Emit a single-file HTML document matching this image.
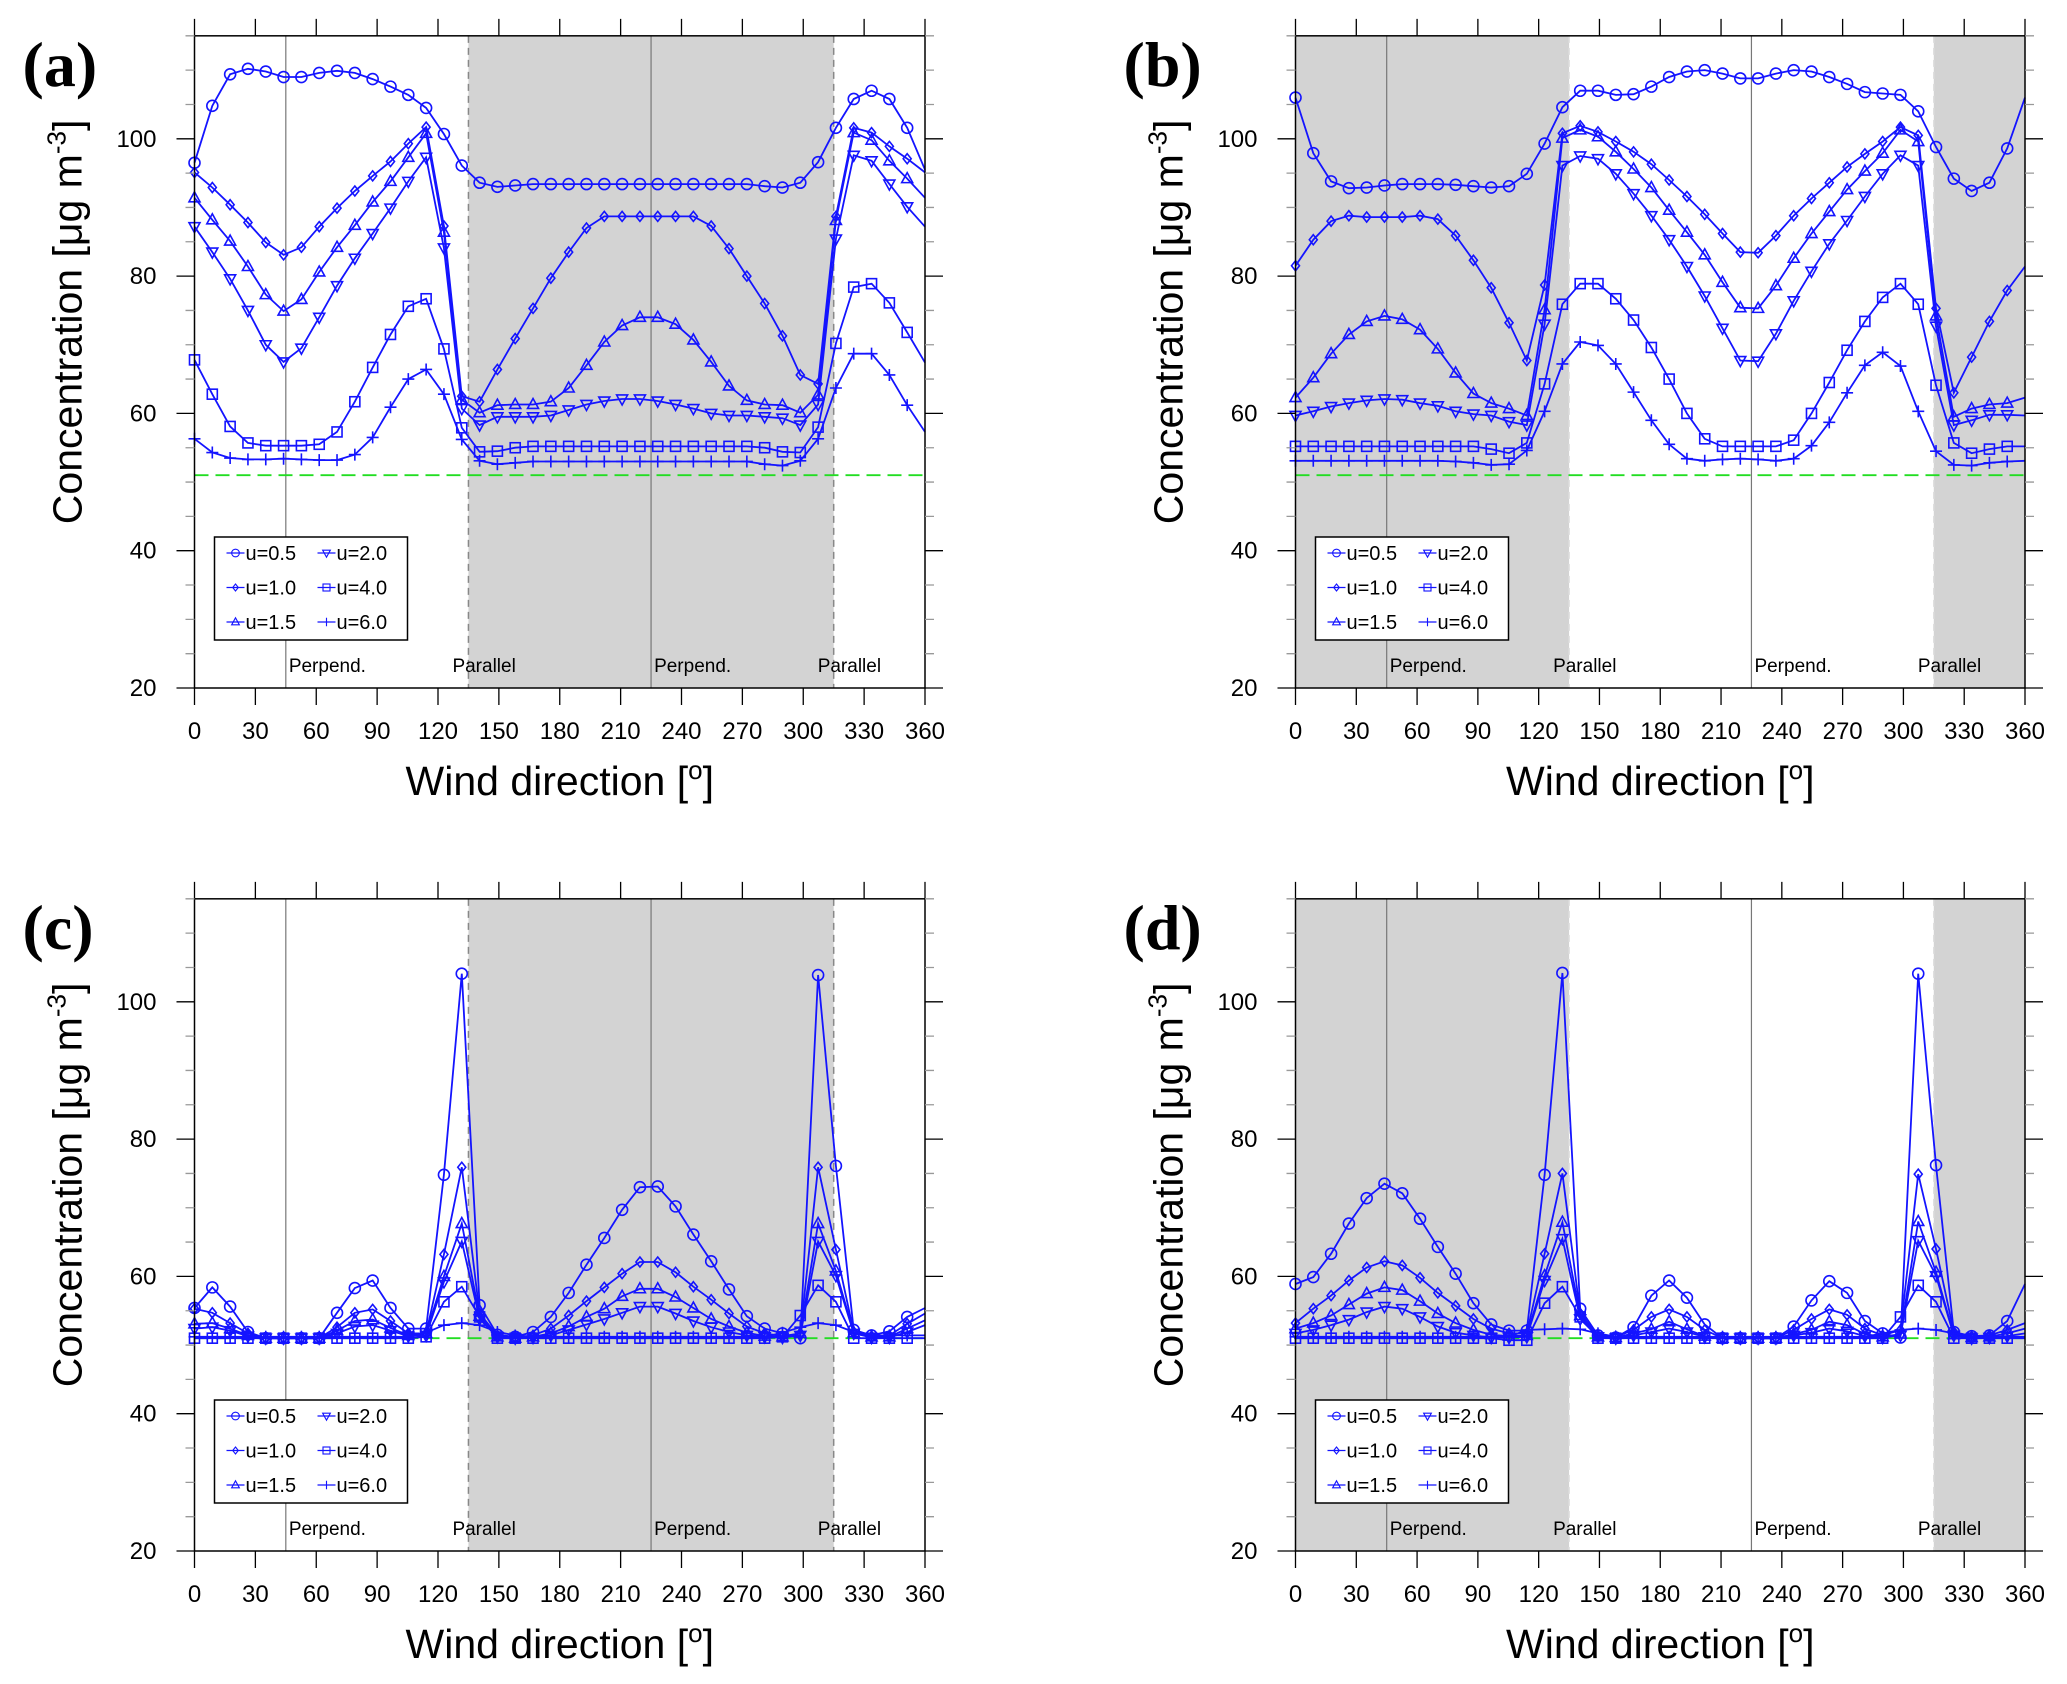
<!DOCTYPE html>
<html>
<head>
<meta charset="utf-8">
<style>
  html,body{margin:0;padding:0;background:#fff;}
  svg{display:block;}
  text{font-family:"Liberation Sans",sans-serif;}
</style>
</head>
<body>
<svg id="fig" xmlns="http://www.w3.org/2000/svg" width="2067" height="1684" viewBox="0 0 2067 1684"></svg>
<script>
// ---- data ----
const angles = [0,8.78,17.56,26.34,35.12,43.9,52.68,61.46,70.24,79.02,87.8,96.59,105.37,114.15,122.93,131.71,140.49,149.27,158.05,166.83,175.61,184.39,193.17,201.95,210.73,219.51,228.29,237.07,245.85,254.63,263.41,272.2,280.98,289.76,298.54,307.32,316.1,324.88,333.66,342.44,351.22,360];
const seriesLabels = ["u=0.5","u=1.0","u=1.5","u=2.0","u=4.0","u=6.0"];
const markerTypes = ["circle","diamond","tri-up","tri-down","square","plus"];
const xTicks = [0,30,60,90,120,150,180,210,240,270,300,330,360];
const yTicks = [20,40,60,80,100];
const background = 51;

const A_05=[96.5,104.8,109.4,110.2,109.8,109.0,109.0,109.6,109.9,109.6,108.7,107.6,106.4,104.5,100.7,96.1,93.6,93.0,93.2,93.4,93.4,93.4,93.4,93.4,93.4,93.4,93.4,93.4,93.4,93.4,93.4,93.4,93.1,92.9,93.6,96.6,101.6,105.8,107.0,105.8,101.6,95.5];
const A_10=[95.1,92.9,90.4,87.8,84.9,83.1,84.2,87.2,89.9,92.4,94.6,96.7,99.3,101.7,87.3,62.5,61.7,66.4,70.9,75.3,79.7,83.5,87.0,88.7,88.7,88.7,88.7,88.7,88.7,87.3,84.0,80.0,76.0,71.3,65.6,64.3,88.7,101.6,100.9,98.9,97.1,95.1];
const A_15=[91.4,88.2,85.1,81.4,77.3,74.9,76.6,80.6,84.2,87.4,90.8,93.8,97.3,100.8,86.4,62.0,60.1,61.2,61.3,61.3,61.7,63.7,67.0,70.4,72.8,74.0,74.0,73.0,70.7,67.5,64.0,61.9,61.3,61.2,60.1,62.7,88.1,100.9,99.8,96.8,94.2,91.4];
const A_20=[87.2,83.5,79.6,75.0,70.0,67.5,69.5,74.0,78.6,82.6,86.2,89.9,93.8,97.3,84.1,60.7,58.3,59.5,59.5,59.5,59.7,60.5,61.3,61.8,62.1,62.1,61.8,61.3,60.7,60.0,59.7,59.7,59.5,59.3,58.3,61.3,85.4,97.6,96.8,93.4,90.1,87.2];
const A_40=[67.8,62.8,58.1,55.7,55.3,55.3,55.3,55.5,57.3,61.7,66.7,71.5,75.6,76.7,69.4,57.9,54.4,54.5,55.0,55.2,55.2,55.2,55.2,55.2,55.2,55.2,55.2,55.2,55.2,55.2,55.2,55.2,55.0,54.4,54.3,58.0,70.2,78.4,78.9,76.1,71.8,67.4];
const A_60=[56.3,54.3,53.5,53.3,53.3,53.4,53.3,53.2,53.2,54.0,56.5,60.9,65.0,66.4,62.8,56.2,53.1,52.6,52.8,53.0,53.0,53.0,53.0,53.0,53.0,53.0,53.0,53.0,53.0,53.0,53.0,53.0,52.6,52.4,53.1,56.3,63.7,68.7,68.7,65.6,61.2,57.3];

const B_05=[106.0,97.9,93.8,92.8,92.9,93.2,93.4,93.4,93.4,93.3,93.1,92.9,93.1,94.9,99.3,104.6,107.0,107.0,106.4,106.5,107.6,109.0,109.8,110.0,109.5,108.8,108.8,109.5,110.0,109.8,109.0,108.0,106.8,106.6,106.4,104.0,98.8,94.2,92.4,93.6,98.6,106.0];
const B_10=[81.5,85.3,88.0,88.8,88.6,88.6,88.6,88.8,88.3,85.9,82.3,78.3,73.2,67.7,78.7,100.8,101.9,101.0,99.6,98.1,96.3,94.0,91.6,89.0,86.2,83.5,83.4,85.9,88.8,91.3,93.6,95.9,97.8,99.6,101.7,100.5,75.3,63.0,68.2,73.4,77.9,81.4];
const B_15=[62.3,65.2,68.7,71.5,73.4,74.2,73.7,72.2,69.4,65.9,62.9,61.5,60.7,59.7,75.1,100.1,101.3,100.3,98.1,95.6,92.9,89.6,86.4,83.1,79.1,75.4,75.3,78.6,82.6,86.2,89.4,92.6,95.3,97.9,101.3,99.6,74.2,59.5,60.7,61.3,61.5,62.3];
const B_20=[59.7,60.3,61.0,61.5,61.9,62.1,62.0,61.5,61.1,60.3,59.9,59.7,58.8,58.3,73.0,96.1,97.5,97.1,94.9,92.0,88.8,85.3,81.4,77.1,72.4,67.7,67.6,71.6,76.4,80.7,84.7,88.1,91.6,94.9,97.6,96.1,72.7,58.3,59.0,59.8,59.8,59.7];
const B_40=[55.2,55.2,55.2,55.2,55.2,55.2,55.2,55.2,55.2,55.2,55.2,54.8,54.2,55.7,64.3,75.9,78.9,78.9,76.7,73.6,69.6,65.0,60.0,56.3,55.2,55.2,55.2,55.2,56.1,60.0,64.5,69.2,73.4,76.9,78.9,75.9,64.1,55.7,54.2,54.8,55.2,55.2];
const B_60=[53.1,53.1,53.1,53.1,53.1,53.1,53.1,53.1,53.1,53.0,52.8,52.5,52.6,54.6,60.3,67.2,70.4,69.9,67.2,63.1,59.0,55.5,53.4,53.1,53.3,53.4,53.3,53.1,53.4,55.3,58.7,63.0,67.0,68.9,66.9,60.3,54.5,52.5,52.4,52.8,53.0,53.1];

const C_05=[55.4,58.4,55.6,51.9,51,51,51,51,54.7,58.3,59.4,55.4,52.4,52.4,74.8,104.1,55.8,51.5,51.2,51.9,54.1,57.6,61.7,65.6,69.7,73.0,73.1,70.2,66.1,62.2,58.1,54.2,52.4,51.7,51.0,103.9,76.1,52.2,51.4,52.0,54.1,55.4];
const C_10=[55.3,54.7,53.2,51.7,51,51,51,51,52.6,54.7,55.2,53.5,51.7,51.7,63.2,75.9,54.6,51.4,51.1,51.4,52.4,54.3,56.4,58.4,60.4,62.1,62.1,60.6,58.5,56.6,54.6,52.7,51.7,51.3,51.7,75.9,63.9,51.9,51.2,51.4,53.1,54.6];
const C_15=[53.1,53.2,52.4,51.4,51,51,51,51,52.1,53.5,53.7,52.5,51.4,51.7,60.0,67.7,54.2,51.2,51.0,51.2,51.7,52.7,54.1,55.3,57.1,58.2,58.2,57.0,55.4,53.8,52.7,51.8,51.3,51.2,51.7,67.7,60.8,51.8,51.2,51.2,52.4,53.6];
const C_20=[52.4,52.6,52.1,51.3,51,51,51,51,51.7,52.7,52.9,52.1,51.3,51.4,59.2,65.1,53.8,51.2,51.0,51.1,51.4,52.2,53.0,53.8,54.7,55.6,55.6,54.6,53.5,52.6,51.9,51.4,51.2,51.1,51.4,65.1,60.1,51.7,51.1,51.1,51.9,52.9];
const C_40=[51,51,51,51,51,51,51,51,51,51,51,51,51,51.2,56.3,58.5,54.1,51,51,51,51,51,51,51,51,51,51,51,51,51,51,51,51,51.2,54.3,58.7,56.3,51,51,51,51,51];
const C_60=[51.2,51.2,51.2,51.2,51.2,51.2,51.2,51.2,51.2,51.2,51.2,51.2,51.2,51.8,52.9,53.2,52.9,51.9,51.4,51.2,51.2,51.2,51.2,51.2,51.2,51.2,51.2,51.2,51.2,51.2,51.2,51.2,51.2,51.8,52.6,53.2,52.9,51.9,51.4,51.4,51.4,51.4];

const D_05=[58.9,59.9,63.3,67.7,71.4,73.5,72.1,68.4,64.3,60.4,56.1,53.0,52.1,52.1,74.8,104.2,55.3,51.4,51.1,52.6,57.2,59.4,56.9,53.0,51,51,51,51,52.7,56.5,59.3,57.6,53.5,51.7,51.1,104.1,76.2,51.9,51.3,51.4,53.5,58.9];
const D_10=[53.2,55.3,57.2,59.4,61.3,62.2,61.6,59.8,57.6,55.7,53.8,52.4,51.7,51.7,63.3,75.0,54.6,51.4,51.2,52.2,54.1,55.2,54.1,52.2,51,51,51,51,52.2,53.8,55.2,54.4,52.4,51.4,52.2,74.9,64.0,51.9,51.2,51.4,52.2,53.2];
const D_15=[52.4,53.2,54.3,55.9,57.5,58.4,58.0,56.4,54.6,53.2,52.2,51.5,51.3,51.4,60.1,67.9,54.3,51.2,51.1,51.7,52.3,53.4,52.3,51.3,51,51,51,51,51.6,52.2,53.4,52.9,51.6,51.2,51.6,68.0,60.6,51.5,51.1,51.2,51.7,52.4];
const D_20=[51.7,52.2,52.9,53.7,54.8,55.6,55.3,54.1,52.7,51.8,51.4,51.1,51.1,51.2,59.4,65.5,53.8,51.2,51.0,51.4,51.9,52.4,51.9,51.2,51,51,51,51,51.4,51.8,52.4,52.0,51.3,51.1,51.4,65.2,60.1,51.4,51.0,51.1,51.3,51.7];
const D_40=[51,51,51,51,51,51,51,51,51,51,51,51,50.7,50.7,56.1,58.5,54.1,51,51,51,51,51,51,51,51,51,51,51,51,51,51,51,51,51,54.1,58.7,56.3,51,51,51,51,51];
const D_60=[51.2,51.2,51.2,51.2,51.2,51.2,51.2,51.2,51.2,51.2,51.2,51.2,51.2,52.2,52.3,52.4,52.3,51.7,51.2,51.2,51.2,51.2,51.2,51.2,51.2,51.2,51.2,51.2,51.2,51.2,51.2,51.2,51.2,51.7,52.2,52.4,52.2,51.7,51.2,51.2,51.2,51.2];

// ---- layout ----
const NS="http://www.w3.org/2000/svg";
const svg=document.getElementById('fig');
const X_MIN=0,X_MAX=360,Y_MIN=20,Y_MAX=115;
const panels=[
  {id:"a",x0:194.5,x1:925,yBase:688,series:[A_05,A_10,A_15,A_20,A_40,A_60],shade:[[135,315]]},
  {id:"b",x0:1295.5,x1:2025,yBase:688,series:[B_05,B_10,B_15,B_20,B_40,B_60],shade:[[0,135],[315,360]]},
  {id:"c",x0:194.5,x1:925,yBase:1551,series:[C_05,C_10,C_15,C_20,C_40,C_60],shade:[[135,315]]},
  {id:"d",x0:1295.5,x1:2025,yBase:1551,series:[D_05,D_10,D_15,D_20,D_40,D_60],shade:[[0,135],[315,360]]}
];
const PX_PER_UNIT=6.865;
const BLUE="#1414ff";

function mk(tag,attrs,parent){
  const e=document.createElementNS(NS,tag);
  for(const k in attrs) e.setAttribute(k,attrs[k]);
  (parent||svg).appendChild(e);
  return e;
}
function marker(type,cx,cy,g){
  const r=5.5;let m;
  if(type==="circle") m=mk("circle",{cx:cx,cy:cy,r:r,fill:"none",stroke:BLUE,"stroke-width":1.6},g);
  else if(type==="diamond") m=mk("polygon",{points:`${cx},${cy-5} ${cx+4},${cy} ${cx},${cy+5} ${cx-4},${cy}`,fill:"none",stroke:BLUE,"stroke-width":1.6},g);
  else if(type==="tri-up") m=mk("polygon",{points:`${cx},${cy-6} ${cx+5.5},${cy+4} ${cx-5.5},${cy+4}`,fill:"none",stroke:BLUE,"stroke-width":1.6},g);
  else if(type==="tri-down") m=mk("polygon",{points:`${cx},${cy+6} ${cx+5.5},${cy-4} ${cx-5.5},${cy-4}`,fill:"none",stroke:BLUE,"stroke-width":1.6},g);
  else if(type==="square") m=mk("rect",{x:cx-5,y:cy-5,width:10,height:10,fill:"none",stroke:BLUE,"stroke-width":1.6},g);
  else m=mk("path",{d:`M${cx-6},${cy}H${cx+6}M${cx},${cy-6}V${cy+6}`,stroke:BLUE,"stroke-width":1.6,fill:"none"},g);
  return m;
}

panels.forEach(p=>{
  const sx=v=>p.x0+(v-X_MIN)/(X_MAX-X_MIN)*(p.x1-p.x0);
  const sy=v=>p.yBase-(v-Y_MIN)*PX_PER_UNIT;
  const yTop=sy(Y_MAX), yBot=sy(Y_MIN);
  const g=mk("g",{});
  
  

  p.shade.forEach(s=>{
    const r=mk("rect",{x:sx(s[0]),y:yTop,width:sx(s[1])-sx(s[0]),height:yBot-yTop,fill:"#d3d3d3"},g);
    
    
  });
  [45,225].forEach(a=>{
    const l=mk("line",{x1:sx(a),x2:sx(a),y1:yTop,y2:yBot,stroke:"#777","stroke-width":1.2},g);
    
    
  });
  [135,315].forEach(a=>{
    const l=mk("line",{x1:sx(a),x2:sx(a),y1:yTop,y2:yBot,stroke:p.shade[0][0]===0?"#ddd":"#888","stroke-width":1.5,"stroke-dasharray":"7,5"},g);
    
    
  });
  const bg=mk("line",{x1:sx(0),x2:sx(360),y1:sy(background),y2:sy(background),stroke:"#22dd22","stroke-width":1.8,"stroke-dasharray":"14,7"},g);
  
  

  [["Perpend.",45,3],["Parallel",135,-16],["Perpend.",225,3],["Parallel",315,-16]].forEach(t=>{
    const tx=mk("text",{x:sx(t[1])+t[2],y:yBot-16,"font-size":19,fill:"#000"},g);
    tx.textContent=t[0];
    
    
  });

  p.series.forEach((vals,si)=>{
    const sg=mk("g",{},g);
    
    
    const pts=vals.map((v,i)=>sx(angles[i]).toFixed(1)+","+sy(v).toFixed(1)).join(" ");
    const pl=mk("polyline",{points:pts,fill:"none",stroke:BLUE,"stroke-width":1.8},sg);
    
    
    vals.forEach((v,i)=>{
      if(angles[i]>=359) return;
      const m=marker(markerTypes[si],sx(angles[i]),sy(v),sg);
      
      
    });
  });

  const fr=mk("rect",{x:sx(0),y:yTop,width:sx(360)-sx(0),height:yBot-yTop,fill:"none",stroke:"#000","stroke-width":1.5},g);
  
  

  xTicks.forEach(t=>{
    const x=sx(t);
    const tk=mk("path",{d:`M${x},${yBot}V${yBot+17}M${x},${yTop}V${yTop-17}`,stroke:"#000","stroke-width":1.3},g);
    
    
    const lb=mk("text",{x:x,y:yBot+51,"font-size":24,"text-anchor":"middle"},g);
    lb.textContent=t;
    
    
  });
  for(let v=Y_MIN;v<=Y_MAX;v+=5){
    const y=sy(v), major=(yTicks.indexOf(v)>=0), len=major?18:9;
    const tk=mk("path",{d:`M${sx(0)},${y}H${sx(0)-len}M${sx(360)},${y}H${sx(360)+len}`,stroke:major?"#000":"#999","stroke-width":1.3},g);
    
    
  }
  yTicks.forEach(t=>{
    const lb=mk("text",{x:sx(0)-38,y:sy(t)+8,"font-size":24,"text-anchor":"end"},g);
    lb.textContent=t;
    
    
  });

  const xt=mk("text",{x:(sx(0)+sx(360))/2,y:yBot+107,"font-size":41,"text-anchor":"middle"},g);
  xt.innerHTML='Wind direction [<tspan font-size="26" dy="-16">o</tspan><tspan dy="16">]</tspan>';
  
  
  const yc=(yTop+yBot)/2-40;
  const yt=mk("text",{x:0,y:0,"font-size":41,"text-anchor":"middle",transform:`translate(${p.x0-113},${yc}) rotate(-90)`},g);
  yt.innerHTML='Concentration [μg m<tspan font-size="26" dy="-16">-3</tspan><tspan dy="16">]</tspan>';
  
  

  const pl=mk("text",{x:p.x0-172,y:yTop+50,"font-size":64,"font-weight":"bold",style:"font-family:'Liberation Serif',serif"},g);
  pl.textContent="("+p.id+")";
  
  

  const lg=mk("g",{},g);
  
  
  const lx=p.x0+20, ly=yBot-151;
  const lbox=mk("rect",{x:lx,y:ly,width:193,height:103,fill:"#fff",stroke:"#000","stroke-width":1.5},lg);
  
  
  seriesLabels.forEach((s,i)=>{
    const col=Math.floor(i/3), row=i%3;
    const ex=lx+12+col*91, ey=ly+16+row*34.5;
    const e=mk("g",{},lg);
    
    
    mk("line",{x1:ex,x2:ex+18,y1:ey,y2:ey,stroke:BLUE,"stroke-width":1.3},e);
    const m=mk("g",{transform:`translate(${ex+9},${ey}) scale(0.7) translate(${-(ex+9)},${-ey})`},e);
    marker(markerTypes[i],ex+9,ey,m);
    const t=mk("text",{x:ex+19,y:ey+7,"font-size":20},e);
    t.textContent=s;
  });
});
</script>
</body>
</html>
